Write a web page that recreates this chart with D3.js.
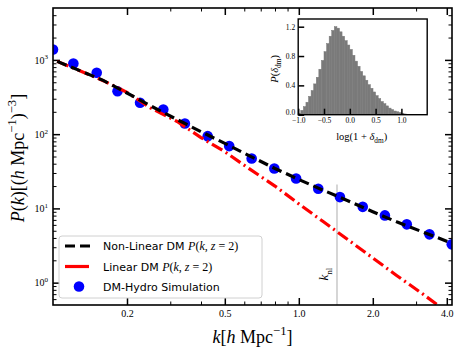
<!DOCTYPE html>
<html>
<head>
<meta charset="utf-8">
<script src="https://cdn.jsdelivr.net/npm/d3@7"></script>
<style>
  body { margin: 0; background: #fff; }
  .axis path { display: none; }
  .axis line { stroke: #000; }
  .axis text { font-family: "Liberation Serif", serif; fill: #000; }
</style>
</head>
<body>
<svg id="chart" width="463" height="353"></svg>
<script>
"use strict";

// Simulation points (DM-Hydro)
var simK = [0.1, 0.121, 0.1506, 0.183, 0.226, 0.281, 0.344, 0.426, 0.521, 0.643,
  0.795, 0.975, 1.20, 1.47, 1.82, 2.24, 2.75, 3.40, 4.19];
var simP = [1380, 894, 670, 379, 265, 215, 139, 94, 69, 47,
  34.5, 25.3, 18.4, 14.2, 10.5, 8.05, 6.1, 4.47, 3.28];

// Theory curves
var lineK = [0.104, 0.13, 0.16, 0.2, 0.25, 0.32, 0.4, 0.5, 0.63, 0.8, 1.0, 1.26, 1.6, 2.0, 2.5, 3.2, 4.2];
var nonlinP = [955, 705, 530, 358, 240, 157, 108, 75, 51, 34.5, 24.5, 17.5, 12.5, 9.0, 6.6, 4.8, 3.4];
var linP = [955, 702, 525, 365, 224, 148, 90, 58, 34, 20, 11.5, 6.6, 3.7, 2.15, 1.25, 0.70, 0.36];

var kNL = 1.43;
var kNLtop = 21;

// Tick labels
var xMajor = [0.2, 0.5, 1.0, 2.0, 4.0];
var xMinor = [0.3, 0.4, 0.6, 0.7, 0.8, 0.9, 3.0];
var yMajor = [1, 10, 100, 1000];

// Inset histogram of log(1+delta_dm)
var histLeft = [-1.00, -0.95, -0.90, -0.85, -0.80, -0.75, -0.70, -0.65, -0.60, -0.55,
  -0.50, -0.45, -0.40, -0.35, -0.30, -0.25, -0.20, -0.15, -0.10, -0.05,
  0.00, 0.05, 0.10, 0.15, 0.20, 0.25, 0.30, 0.35, 0.40, 0.45,
  0.50, 0.55, 0.60, 0.65, 0.70, 0.75, 0.80, 0.85, 0.90, 0.95, 1.00, 1.05, 1.10];
var histVal = [0.02, 0.06, 0.11, 0.17, 0.25, 0.33, 0.42, 0.51, 0.62, 0.74,
  0.86, 0.97, 1.07, 1.15, 1.20, 1.18, 1.13, 1.07, 1.01, 0.95,
  0.89, 0.81, 0.73, 0.66, 0.59, 0.53, 0.47, 0.41, 0.36, 0.31,
  0.26, 0.22, 0.18, 0.15, 0.12, 0.09, 0.07, 0.05, 0.04, 0.03, 0.02, 0.01, 0.005];
var histBin = 0.05;
var insetXTicks = [-1.0, -0.5, 0.0, 0.5, 1.0];
var insetYTicks = [0.0, 0.4, 0.8, 1.2];

var SERIF = "'Liberation Serif', 'DejaVu Serif', serif";
var SANS = "'DejaVu Sans', sans-serif";

var graph = {};
graph.svg = d3.select("#chart");
graph.margins = { top: 8, left: 53 };
graph.width = 399;
graph.height = 297;

graph.main_g = graph.svg.append("g")
  .attr("transform", "translate(" + graph.margins.left + "," + graph.margins.top + ")");

var x = d3.scaleLog().domain([0.1, 4.2]).range([0, graph.width]);
var y = d3.scaleLog().domain([0.5, 5000]).range([graph.height, 0]);

// writes mixed roman / italic / super / subscript pieces into a text element
function addParts(sel, parts, size) {
  var shift = 0;
  parts.forEach(function(p) {
    var t = sel.append("tspan").text(p.t);
    var want = p.sup ? -0.42 * size : (p.sub ? 0.28 * size : 0);
    if (want !== shift) {
      t.attr("dy", want - shift);
      shift = want;
    }
    if (p.sup || p.sub) t.attr("font-size", size * 0.7);
    if (p.i) t.attr("font-style", "italic");
    if (p.f) t.attr("font-family", p.f);
  });
}

// clip for data
graph.svg.append("clipPath")
  .attr("id", "clip")
  .append("rect")
  .attr("width", graph.width)
  .attr("height", graph.height);

// minor y ticks
var yMinor = [];
[-1, 0, 1, 2, 3].forEach(function(d) {
  for (var m = 2; m <= 9; m++) {
    var v = m * Math.pow(10, d);
    if (v > 0.5 && v < 5000) yMinor.push(v);
  }
});

function tickAxis(axisFn, scale, vals, len, width, transform, withLabels) {
  var g = graph.main_g.append("g")
    .attr("class", "axis")
    .attr("transform", transform || null)
    .call(axisFn(scale).tickValues(vals).tickSize(-len)
      .tickPadding(5).tickFormat(withLabels ? null : ""));
  g.selectAll("line").attr("stroke-width", width);
  return g;
}

// minor ticks, all four sides
tickAxis(d3.axisBottom, x, xMinor, 3.5, 1, "translate(0," + graph.height + ")");
tickAxis(d3.axisTop, x, xMinor, 3.5, 1);
tickAxis(d3.axisLeft, y, yMinor, 3.5, 1);
tickAxis(d3.axisRight, y, yMinor, 3.5, 1, "translate(" + graph.width + ",0)");

// major ticks
var gX = tickAxis(d3.axisBottom, x, xMajor, 7, 1.5, "translate(0," + graph.height + ")", true);
gX.selectAll("text")
  .attr("font-size", 10)
  .text(function(d) { return d3.format(".1f")(d); });
tickAxis(d3.axisTop, x, xMajor, 7, 1.5);

var gY = tickAxis(d3.axisLeft, y, yMajor, 7, 1.5, null, true);
gY.selectAll("text")
  .attr("font-size", 10)
  .text("")
  .each(function(d) {
    addParts(d3.select(this), [
      { t: "10" },
      { t: String(Math.round(Math.log10(d))), sup: true }
    ], 10);
  });
tickAxis(d3.axisRight, y, yMajor, 7, 1.5, "translate(" + graph.width + ",0)");

// data layer
graph.data_g = graph.main_g.append("g").attr("clip-path", "url(#clip)");

// k_nl marker
graph.data_g.append("line")
  .attr("x1", x(kNL)).attr("x2", x(kNL))
  .attr("y1", y(kNLtop)).attr("y2", graph.height)
  .attr("stroke", "#c8c8c8")
  .attr("stroke-width", 1.5);

graph.data_g.selectAll("circle.sim")
  .data(simK)
  .enter()
  .append("circle")
  .attr("class", "sim")
  .attr("cx", function(d) { return x(d); })
  .attr("cy", function(d, i) { return y(simP[i]); })
  .attr("r", 5.3)
  .attr("fill", "#0000ff");

var line = d3.line()
  .x(function(d) { return x(d[0]); })
  .y(function(d) { return y(d[1]); });

graph.data_g.append("path")
  .attr("d", line(lineK.map(function(k, i) { return [k, linP[i]]; })))
  .attr("fill", "none")
  .attr("stroke", "#ff0000")
  .attr("stroke-width", 3.2)
  .attr("stroke-dasharray", "12,4,2,4");

graph.data_g.append("path")
  .attr("d", line(lineK.map(function(k, i) { return [k, nonlinP[i]]; })))
  .attr("fill", "none")
  .attr("stroke", "#000")
  .attr("stroke-width", 3.2)
  .attr("stroke-dasharray", "10,5");

// frame
graph.main_g.append("rect")
  .attr("width", graph.width)
  .attr("height", graph.height)
  .attr("fill", "none")
  .attr("stroke", "#000")
  .attr("stroke-width", 1.6);

// k_nl label
var knlText = graph.main_g.append("text")
  .attr("transform", "translate(" + (x(kNL) - 9) + "," + (y(1.3)) + ") rotate(-90)")
  .attr("text-anchor", "middle")
  .attr("font-family", SERIF)
  .attr("font-size", 13);
addParts(knlText, [{ t: "k", i: true }, { t: "nl", sub: true }], 13);

// axis labels
var xLab = graph.svg.append("text")
  .attr("x", graph.margins.left + graph.width / 2)
  .attr("y", 343)
  .attr("text-anchor", "middle")
  .attr("font-family", SERIF)
  .attr("font-size", 18);
addParts(xLab, [
  { t: "k", i: true }, { t: "[" }, { t: "h", i: true }, { t: " Mpc" },
  { t: "\u22121", sup: true }, { t: "]" }
], 18);

var yLab = graph.svg.append("text")
  .attr("transform", "translate(24," + (graph.margins.top + 150) + ") rotate(-90)")
  .attr("text-anchor", "middle")
  .attr("font-family", SERIF)
  .attr("font-size", 18);
addParts(yLab, [
  { t: "P", i: true }, { t: "(" }, { t: "k", i: true }, { t: ")[(" },
  { t: "h", i: true }, { t: " Mpc" }, { t: "\u22121", sup: true }, { t: ")" },
  { t: "\u22123", sup: true }, { t: "]" }
], 18);

// legend
var legend = graph.svg.append("g").attr("transform", "translate(59,236)");
legend.append("rect")
  .attr("width", 203)
  .attr("height", 62)
  .attr("rx", 3)
  .attr("fill", "rgba(255,255,255,0.85)")
  .attr("stroke", "#d0d0d0")
  .attr("stroke-width", 1);

var legRows = [
  { y: 10, kind: "nonlin", label: "Non-Linear DM ", math: true },
  { y: 30.5, kind: "lin", label: "Linear DM ", math: true },
  { y: 50.5, kind: "sim", label: "DM-Hydro Simulation", math: false }
];
legRows.forEach(function(r) {
  if (r.kind === "nonlin") {
    legend.append("line").attr("x1", 6).attr("x2", 33).attr("y1", r.y).attr("y2", r.y)
      .attr("stroke", "#000").attr("stroke-width", 3.2).attr("stroke-dasharray", "10,5");
  } else if (r.kind === "lin") {
    legend.append("line").attr("x1", 6).attr("x2", 33).attr("y1", r.y).attr("y2", r.y)
      .attr("stroke", "#ff0000").attr("stroke-width", 3.2).attr("stroke-dasharray", "24,3,2,4");
  } else {
    legend.append("circle").attr("cx", 20).attr("cy", r.y).attr("r", 5.3).attr("fill", "#0000ff");
  }
  var t = legend.append("text")
    .attr("x", 44)
    .attr("y", r.y + 4)
    .attr("font-family", SANS)
    .attr("font-size", 11)
    .text(r.label);
  if (r.math) {
    addParts(t, [
      { t: "P", i: true, f: SERIF }, { t: "(", f: SERIF }, { t: "k", i: true, f: SERIF },
      { t: ", ", f: SERIF }, { t: "z", i: true, f: SERIF }, { t: " = 2)", f: SERIF }
    ], 11);
    t.selectAll("tspan").attr("font-size", 12);
  }
});

// inset
var inset = {};
inset.left = 298.2;
inset.top = 19;
inset.width = 129;
inset.height = 95.7;
inset.g = graph.svg.append("g")
  .attr("transform", "translate(" + inset.left + "," + inset.top + ")");
inset.x = d3.scaleLinear().domain([-1, 1.5]).range([0, inset.width]);
inset.y = d3.scaleLinear().domain([0, 1.305]).range([inset.height, 0]);

inset.g.append("rect")
  .attr("width", inset.width).attr("height", inset.height)
  .attr("fill", "#fff");

inset.g.selectAll("rect.bar")
  .data(histLeft)
  .enter()
  .append("rect")
  .attr("class", "bar")
  .attr("x", function(d) { return inset.x(d); })
  .attr("width", inset.x(histBin) - inset.x(0))
  .attr("y", function(d, i) { return inset.y(histVal[i]); })
  .attr("height", function(d, i) { return inset.height - inset.y(histVal[i]); })
  .attr("fill", "#7a7a7a")
  .attr("stroke", "#7a7a7a")
  .attr("stroke-width", 0.5);

var ixAxis = inset.g.append("g")
  .attr("class", "axis")
  .attr("transform", "translate(0," + inset.height + ")")
  .call(d3.axisBottom(inset.x).tickValues(insetXTicks).tickSize(-6).tickPadding(3)
    .tickFormat(function(d) { return d3.format(".1f")(d).replace("-", "\u2212"); }));
ixAxis.selectAll("line").attr("stroke-width", 1.5);
ixAxis.selectAll("text").attr("font-size", 7.5);

var iyAxis = inset.g.append("g")
  .attr("class", "axis")
  .call(d3.axisLeft(inset.y).tickValues(insetYTicks).tickSize(-6).tickPadding(3)
    .tickFormat(d3.format(".1f")));
iyAxis.selectAll("line").attr("stroke-width", 1.5);
iyAxis.selectAll("text").attr("font-size", 7.5)
  .attr("dy", function(d) { return d === 0 ? "-0.05em" : "0.32em"; });

inset.g.append("rect")
  .attr("width", inset.width).attr("height", inset.height)
  .attr("fill", "none")
  .attr("stroke", "#000")
  .attr("stroke-width", 1.4);

var ixLab = inset.g.append("text")
  .attr("x", inset.width * 0.5 - 1)
  .attr("y", inset.height + 25)
  .attr("text-anchor", "middle")
  .attr("font-family", SERIF)
  .attr("font-size", 10.5);
addParts(ixLab, [{ t: "log(1 + " }, { t: "\u03b4", i: true }, { t: "dm", sub: true }, { t: ")" }], 10.5);

var iyLab = inset.g.append("text")
  .attr("transform", "translate(-20," + (inset.height * 0.5 + 2) + ") rotate(-90)")
  .attr("text-anchor", "middle")
  .attr("font-family", SERIF)
  .attr("font-size", 10.5);
addParts(iyLab, [{ t: "P", i: true }, { t: "(" }, { t: "\u03b4", i: true }, { t: "dm", sub: true }, { t: ")" }], 10.5);
</script>
</body>
</html>
